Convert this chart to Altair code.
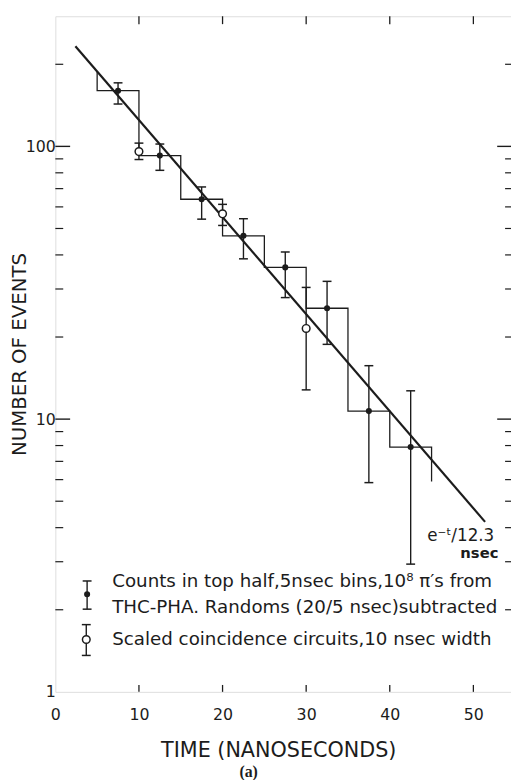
import altair as alt
import pandas as pd

# ---------------- data ----------------
# histogram, 5 nsec bins
bin_edges = [5, 10, 15, 20, 25, 30, 35, 40, 45]
bin_counts = [160, 92.5, 64, 47, 36, 25.5, 10.7, 7.9]
hist_start_top = 188      # leading vertical at t=5 rises to the fit line
hist_end_bottom = 5.9     # trailing vertical at t=45

# filled points: counts in top half (5 nsec bins)
pt_t = [7.5, 12.5, 17.5, 22.5, 27.5, 32.5, 37.5, 42.5]
pt_n = [160, 92.5, 64, 47, 36, 25.5, 10.7, 7.9]
pt_hi = [171, 102, 71, 54.3, 41, 32, 15.7, 12.7]
pt_lo = [143, 81.7, 54.1, 38.7, 27.9, 18.8, 5.85, 2.94]

# open points: scaled coincidence circuits
op_t = [10, 20, 30]
op_n = [95.7, 56.6, 21.5]
op_hi = [102.8, 61.3, 30.4]
op_lo = [89.5, 51.3, 12.8]

# fitted exponential e^(-t/12.3) drawn as a straight line on the log axis
fit_t = [2.4, 51.4]
fit_n = [233, 4.2]

x_tick_values = [0, 10, 20, 30, 40, 50]
x_inner_ticks = [10, 20, 30, 40, 50]
y_label_values = [1, 10, 100]
y_major_ticks = [10, 100]
y_minor_ticks = [2, 3, 4, 5, 6, 7, 8, 9, 20, 30, 40, 50, 60, 70, 80, 90, 200]

legend_lines = [
    "Counts in top half,5nsec bins,10\u2078 \u03c0\u2032s from",
    "THC-PHA. Randoms (20/5 nsec)subtracted",
    "Scaled coincidence circuits,10 nsec width",
]
legend_line_t = [6.8, 6.8, 6.8]
legend_line_n = [2.546, 2.05, 1.556]
legend_sym_t = [3.8, 3.7]
legend_sym_n = [2.28, 1.556]
legend_sym_hi = [2.55, 1.764]
legend_sym_lo = [2.01, 1.36]

fit_label = ["e\u207b\u1d57/12.3", "nsec"]
fit_label_t = [52.5, 53.0]
fit_label_n = [3.74, 3.24]

# ---------------- tables ----------------
hv_t, hv_n = [bin_edges[0]], [hist_start_top]
for i, c in enumerate(bin_counts):
    hv_t += [bin_edges[i], bin_edges[i + 1]]
    hv_n += [c, c]
hv_t.append(bin_edges[-1])
hv_n.append(hist_end_bottom)
hist_df = pd.DataFrame({"t": hv_t, "n": hv_n, "o": list(range(len(hv_t)))})

pts = pd.DataFrame({"t": pt_t, "n": pt_n, "hi": pt_hi, "lo": pt_lo})
ops = pd.DataFrame({"t": op_t, "n": op_n, "hi": op_hi, "lo": op_lo})
fit = pd.DataFrame({"t": fit_t, "n": fit_n})
leg_txt = pd.DataFrame({"t": legend_line_t, "n": legend_line_n, "label": legend_lines})
leg_sym = pd.DataFrame({"t": legend_sym_t, "n": legend_sym_n, "hi": legend_sym_hi, "lo": legend_sym_lo})
leg_fill = leg_sym.iloc[[0]]
leg_open = leg_sym.iloc[[1]]
fit_lab = pd.DataFrame({"t": fit_label_t, "n": fit_label_n, "label": fit_label})
ymaj = pd.DataFrame({"v": y_major_ticks})
ymin = pd.DataFrame({"v": y_minor_ticks})
xin = pd.DataFrame({"v": x_inner_ticks})

# ---------------- styling ----------------
W, H = 462, 685
INK = "#1c1c1c"
FONT = "DejaVu Sans"

xs = alt.Scale(domain=[0, 54.5], nice=False, zero=False)
ys = alt.Scale(type="log", domain=[1, 300], nice=False)

xaxis = alt.Axis(values=x_tick_values, ticks=False, tickSize=0, domain=False, grid=False,
                 labelFont=FONT, labelFontSize=16, labelColor=INK, labelPadding=15,
                 labelFlush=False, labelAngle=0,
                 title="TIME (NANOSECONDS)", titleFont=FONT, titleFontSize=21,
                 titleFontWeight="normal", titleColor=INK, titleX=226, titleY=60,
                 titleAlign="center", titleBaseline="middle")
yaxis = alt.Axis(values=y_label_values, format="d", ticks=False, tickSize=0, domain=False,
                 grid=False, labelFont=FONT, labelFontSize=16, labelColor=INK,
                 labelPadding=0, labelFlush=False, labelBaseline="middle",
                 title="NUMBER OF EVENTS", titleFont=FONT, titleFontSize=20,
                 titleFontWeight="normal", titleColor=INK, titleX=-36, titleY=H / 2,
                 titleAngle=270, titleAlign="center", titleBaseline="middle")


def X(f):
    return alt.X(f, type="quantitative", scale=xs, axis=xaxis)


def Y(f):
    return alt.Y(f, type="quantitative", scale=ys, axis=yaxis)


layers = []

# histogram
layers.append(alt.Chart(hist_df).mark_line(color=INK, strokeWidth=1.3)
              .encode(x=X("t"), y=Y("n"), order="o:Q"))
# fit line
layers.append(alt.Chart(fit).mark_line(color=INK, strokeWidth=2.2)
              .encode(x=X("t"), y=Y("n")))


def errbars(df, cap=9):
    r = alt.Chart(df).mark_rule(color=INK, strokeWidth=1.4).encode(x=X("t"), y=Y("lo"), y2="hi")
    c1 = alt.Chart(df).mark_tick(color=INK, orient="horizontal", size=cap, thickness=1.5,
                                 opacity=1).encode(x=X("t"), y=Y("lo"))
    c2 = alt.Chart(df).mark_tick(color=INK, orient="horizontal", size=cap, thickness=1.5,
                                 opacity=1).encode(x=X("t"), y=Y("hi"))
    return [r, c1, c2]


layers += errbars(pts)
layers += errbars(ops)
layers += errbars(leg_sym)

filled = dict(shape="circle", filled=True, color=INK, size=38, opacity=1)
hollow = dict(shape="circle", filled=True, fill="white", stroke=INK, strokeWidth=1.5,
              size=60, opacity=1)
layers.append(alt.Chart(pts).mark_point(**filled).encode(x=X("t"), y=Y("n")))
layers.append(alt.Chart(ops).mark_point(**hollow).encode(x=X("t"), y=Y("n")))
layers.append(alt.Chart(leg_fill).mark_point(**filled).encode(x=X("t"), y=Y("n")))
layers.append(alt.Chart(leg_open).mark_point(**hollow).encode(x=X("t"), y=Y("n")))

# inward ticks
layers.append(alt.Chart(ymaj).mark_rule(color=INK, strokeWidth=1.4)
              .encode(y=Y("v"), x=alt.value(0), x2=alt.value(15)))
layers.append(alt.Chart(ymin).mark_rule(color=INK, strokeWidth=1.2)
              .encode(y=Y("v"), x=alt.value(0), x2=alt.value(8)))
layers.append(alt.Chart(ymaj).mark_rule(color=INK, strokeWidth=1.4)
              .encode(y=Y("v"), x=alt.value(W), x2=alt.value(W - 14)))
layers.append(alt.Chart(ymin).mark_rule(color=INK, strokeWidth=1.2)
              .encode(y=Y("v"), x=alt.value(W), x2=alt.value(W - 6)))
layers.append(alt.Chart(xin).mark_rule(color=INK, strokeWidth=1.3)
              .encode(x=X("v"), y=alt.value(0), y2=alt.value(8)))
layers.append(alt.Chart(xin).mark_rule(color=INK, strokeWidth=1.3)
              .encode(x=X("v"), y=alt.value(H), y2=alt.value(H - 7)))

# legend text
layers.append(alt.Chart(leg_txt).mark_text(align="left", baseline="middle", font=FONT,
                                           fontSize=18.5, color=INK)
              .encode(x=X("t"), y=Y("n"), text="label:N"))
# fit annotation
layers.append(alt.Chart(fit_lab.iloc[[0]]).mark_text(align="right", baseline="middle", font=FONT,
                                                     fontSize=17, color=INK)
              .encode(x=X("t"), y=Y("n"), text="label:N"))
layers.append(alt.Chart(fit_lab.iloc[[1]]).mark_text(align="right", baseline="middle", font=FONT,
                                                     fontSize=15, fontWeight="bold", color=INK)
              .encode(x=X("t"), y=Y("n"), text="label:N"))

chart = (
    alt.layer(*layers)
    .properties(
        width=W, height=H,
        padding={"left": 48, "top": 3, "right": 0, "bottom": 84},
        autosize=alt.AutoSizeParams(type="none"),
        title=alt.TitleParams("(a)", orient="bottom", anchor="middle", font="Liberation Serif",
                              fontSize=16, fontWeight="bold", color=INK, dx=-35, offset=3),
    )
    .configure_view(stroke=INK, strokeWidth=1.5)
    .configure(background="white")
)

chart.save("out.html", embed_options={"renderer": "svg", "actions": False})
